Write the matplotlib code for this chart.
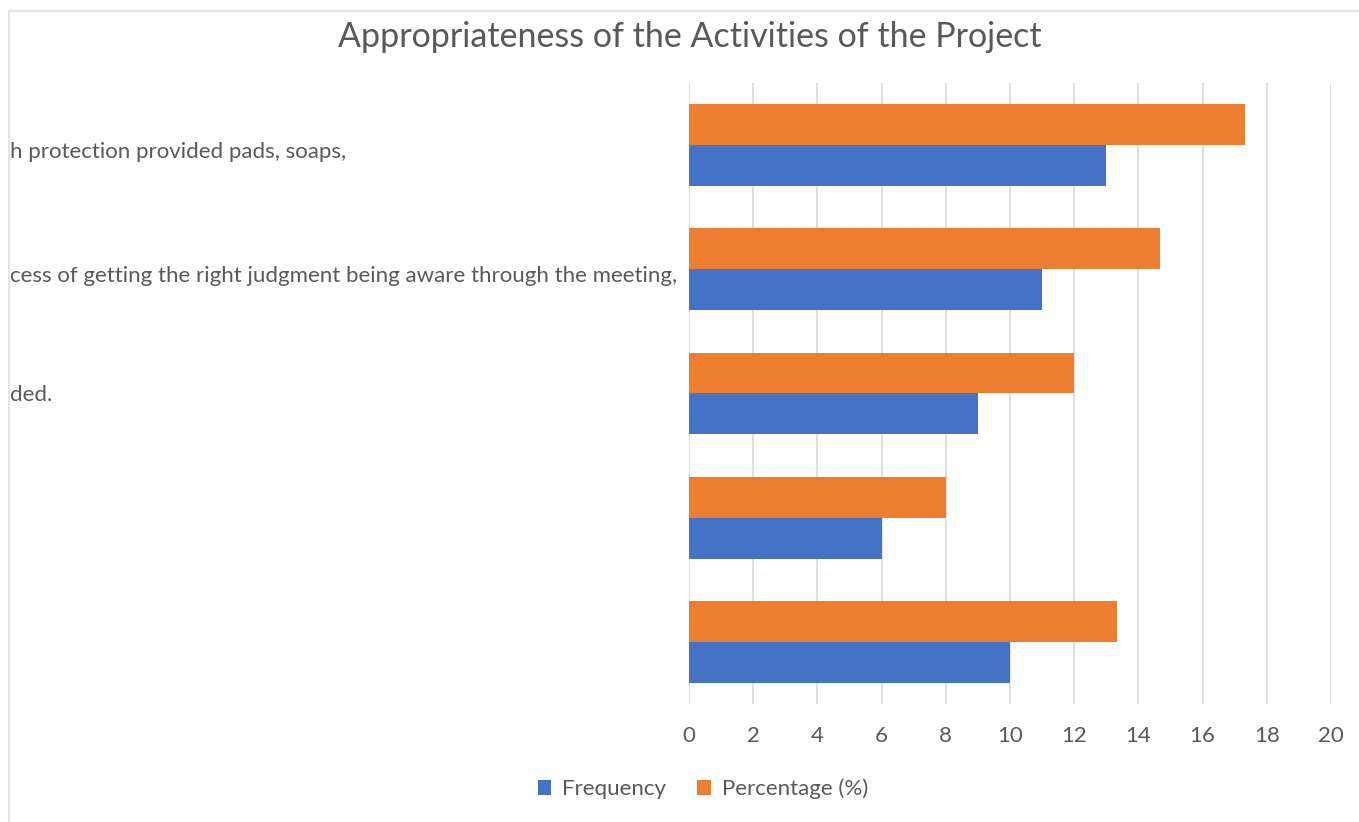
import matplotlib.pyplot as plt
import matplotlib.transforms as transforms
from matplotlib.patches import Rectangle
import numpy as np

# data (top category first)
labels = ['h protection provided pads, soaps,',
          'cess of getting the right judgment being aware through the meeting,',
          'ded.',
          '',
          '']
frequency = [13, 11, 9, 6, 10]
percentage = [17.33, 14.67, 12.0, 8.0, 13.33]
x_ticks = [0, 2, 4, 6, 8, 10, 12, 14, 16, 18, 20]
title = 'Appropriateness of the Activities of the Project'
series_names = ['Frequency', 'Percentage (%)']

blue = '#4472C4'
orange = '#ED7D31'
grid_color = '#D9D9D9'
text_color = '#595959'

plt.rcParams['font.family'] = ['Lato', 'DejaVu Sans']

fig = plt.figure(figsize=(13.59, 8.22), dpi=100)
ax = fig.add_axes([689 / 1359, 1 - 704 / 822, 642 / 1359, 621 / 822])

# faint chart border (cut at the right and bottom)
fig.patches.append(Rectangle((9 / 1359, -0.1), 1.2, 1 - 11 / 822 + 0.1, transform=fig.transFigure,
                             fill=False, edgecolor='#E3E3E3', linewidth=1.5))

pos = np.arange(len(labels))
h = 0.33
ax.barh(pos + h / 2, frequency, height=h, color=blue, label=series_names[0], zorder=3)
ax.barh(pos - h / 2, percentage, height=h, color=orange, label=series_names[1], zorder=3)

ax.set_ylim(len(labels) - 0.5, -0.5)
ax.set_xlim(0, 20)
ax.set_xticks(x_ticks)
ax.set_yticks([])
ax.tick_params(axis='x', length=0, pad=16, labelsize=16, labelcolor=text_color)
ax.grid(axis='x', color=grid_color, linewidth=1.2, zorder=0)
for s in ax.spines.values():
    s.set_visible(False)

# category labels, clipped at the left edge of the picture
trans = transforms.blended_transform_factory(fig.transFigure, ax.transData)
offsets = [-5, -5, -1, 0, 0]  # points
for i, lab in enumerate(labels):
    ax.text(10 / 1359, pos[i], lab, ha='left', va='center', fontsize=16, color=text_color,
            clip_on=False,
            transform=trans + transforms.ScaledTranslation(0, offsets[i] / 72, fig.dpi_scale_trans))

fig.text(690 / 1359, 1 - 37 / 822, title, ha='center', va='center', fontsize=24.5, color=text_color)

handles, names = ax.get_legend_handles_labels()
fig.legend(handles, names, loc='center', bbox_to_anchor=(703 / 1359, 1 - 789 / 822), ncol=2,
           frameon=False, fontsize=16, labelcolor=text_color, handlelength=0.6, handleheight=0.6,
           handletextpad=0.5, columnspacing=1.4)

fig.savefig('out.png', dpi=100)
